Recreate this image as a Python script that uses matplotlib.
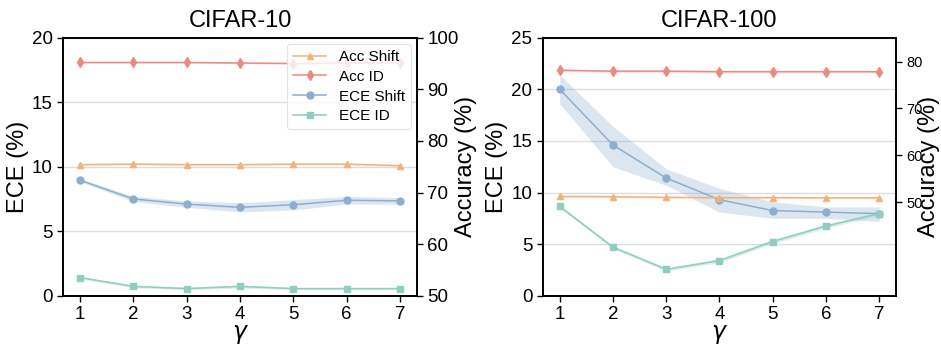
import matplotlib
matplotlib.use("Agg")
import matplotlib.pyplot as plt
import numpy as np

plt.rcParams['font.family'] = ['Liberation Sans', 'DejaVu Sans']

gammas = [1, 2, 3, 4, 5, 6, 7]

# CIFAR-10
c10_acc_shift = [75.4, 75.5, 75.4, 75.4, 75.5, 75.5, 75.2]
c10_acc_shift_std = [0.2, 0.2, 0.2, 0.2, 0.2, 0.2, 0.2]
c10_acc_id = [95.2, 95.2, 95.2, 95.1, 95.0, 95.1, 95.1]
c10_acc_id_std = [0.15, 0.15, 0.15, 0.15, 0.15, 0.15, 0.15]
c10_ece_shift = [8.95, 7.5, 7.1, 6.85, 7.05, 7.4, 7.35]
c10_ece_shift_std = [0.12, 0.2, 0.25, 0.35, 0.4, 0.3, 0.25]
c10_ece_id = [1.4, 0.72, 0.55, 0.72, 0.55, 0.55, 0.55]
c10_ece_id_std = [0.1, 0.1, 0.1, 0.12, 0.08, 0.08, 0.08]

# CIFAR-100
c100_acc_shift = [51.2, 51.15, 51.0, 50.95, 50.95, 50.9, 50.9]
c100_acc_shift_std = [0.2, 0.2, 0.2, 0.2, 0.2, 0.2, 0.2]
c100_acc_id = [78.15, 77.95, 77.95, 77.85, 77.85, 77.85, 77.85]
c100_acc_id_std = [0.25, 0.25, 0.25, 0.25, 0.25, 0.25, 0.25]
c100_ece_shift = [20.0, 14.6, 11.4, 9.3, 8.25, 8.1, 7.95]
c100_ece_shift_lo = [18.6, 12.5, 10.7, 8.1, 7.5, 7.5, 7.2]
c100_ece_shift_hi = [21.4, 16.4, 12.3, 10.4, 9.1, 8.6, 8.6]
c100_ece_id = [8.65, 4.7, 2.55, 3.4, 5.25, 6.75, 7.95]
c100_ece_id_std = [0.15, 0.15, 0.15, 0.2, 0.2, 0.2, 0.2]

col_acc_shift = '#F2B27C'
col_acc_id = '#EC8A80'
col_ece_shift = '#8DAECF'
col_ece_id = '#8ECDBF'

fig = plt.figure(figsize=(9.41, 3.45), dpi=100)
ax1 = fig.add_axes([0.0670, 0.1429, 0.3762, 0.7478])
ax2 = fig.add_axes([0.5767, 0.1429, 0.3758, 0.7478])

x = np.array(gammas)


def style(ax):
    for s in ax.spines.values():
        s.set_color('black')
        s.set_linewidth(1.2)
    ax.tick_params(direction='out', length=4, width=1, color='black')


def draw(ax, acc_s, acc_s_lo, acc_s_hi, acc_i, acc_i_lo, acc_i_hi,
         ece_s, ece_s_lo, ece_s_hi, ece_i, ece_i_lo, ece_i_hi,
         ylim, ylim2, yticks, yticks2, tick2size, title, legend, rlabel_x):
    ax.set_xlim(0.68, 7.32)
    ax.set_ylim(*ylim)
    ax.set_yticks(yticks)
    ax.set_xticks(gammas)
    ax.grid(axis='y', color='#dddddd', linewidth=1.0)
    ax.set_axisbelow(True)
    axr = ax.twinx()
    axr.set_ylim(*ylim2)
    axr.set_yticks(yticks2)
    lw = 1.1
    ms = 5
    h1, = axr.plot(x, acc_s, color=col_acc_shift, marker='^', ms=ms, lw=lw, label='Acc Shift')
    axr.fill_between(x, acc_s_lo, acc_s_hi, color=col_acc_shift, alpha=0.25, lw=0)
    h2, = axr.plot(x, acc_i, color=col_acc_id, marker='d', ms=ms, lw=lw, label='Acc ID')
    axr.fill_between(x, acc_i_lo, acc_i_hi, color=col_acc_id, alpha=0.25, lw=0)
    h3, = ax.plot(x, ece_s, color=col_ece_shift, marker='o', ms=ms, lw=lw, label='ECE Shift')
    ax.fill_between(x, ece_s_lo, ece_s_hi, color=col_ece_shift, alpha=0.3, lw=0)
    h4, = ax.plot(x, ece_i, color=col_ece_id, marker='s', ms=ms, lw=lw, label='ECE ID')
    ax.fill_between(x, ece_i_lo, ece_i_hi, color=col_ece_id, alpha=0.3, lw=0)
    ax.tick_params(axis='both', labelsize=13.5)
    axr.tick_params(axis='y', labelsize=tick2size)
    style(ax)
    style(axr)
    ax.set_ylabel('ECE (%)', fontsize=17, labelpad=2)
    axr.set_ylabel('Accuracy (%)', fontsize=17)
    axr.yaxis.set_label_coords(rlabel_x, 0.5)
    ax.set_xlabel(r'$\gamma$', fontsize=17, labelpad=0)
    ax.set_title(title, fontsize=17, pad=8)
    if legend:
        leg = axr.legend(handles=[h1, h2, h3, h4], loc='upper right', fontsize=11,
                         frameon=True, borderaxespad=0.4, handlelength=2.2,
                         labelspacing=0.38, borderpad=0.4)
        leg.get_frame().set_edgecolor('#dddddd')
        leg.get_frame().set_linewidth(0.8)
    return axr


def band(m, s):
    m = np.array(m); s = np.array(s)
    return m - s, m + s


lo, hi = band(c10_acc_shift, c10_acc_shift_std)
lo2, hi2 = band(c10_acc_id, c10_acc_id_std)
lo3, hi3 = band(c10_ece_shift, c10_ece_shift_std)
lo4, hi4 = band(c10_ece_id, c10_ece_id_std)
draw(ax1, c10_acc_shift, lo, hi, c10_acc_id, lo2, hi2,
     c10_ece_shift, lo3, hi3, c10_ece_id, lo4, hi4,
     (0, 20), (50, 100), [0, 5, 10, 15, 20], [50, 60, 70, 80, 90, 100], 13.5,
     'CIFAR-10', True, 1.107)

lo, hi = band(c100_acc_shift, c100_acc_shift_std)
lo2, hi2 = band(c100_acc_id, c100_acc_id_std)
lo4, hi4 = band(c100_ece_id, c100_ece_id_std)
draw(ax2, c100_acc_shift, lo, hi, c100_acc_id, lo2, hi2,
     c100_ece_shift, c100_ece_shift_lo, c100_ece_shift_hi, c100_ece_id, lo4, hi4,
     (0, 25), (30, 85.1), [0, 5, 10, 15, 20, 25], [50, 60, 70, 80], 10.5,
     'CIFAR-100', False, 1.061)

fig.savefig('out.png', dpi=100)
